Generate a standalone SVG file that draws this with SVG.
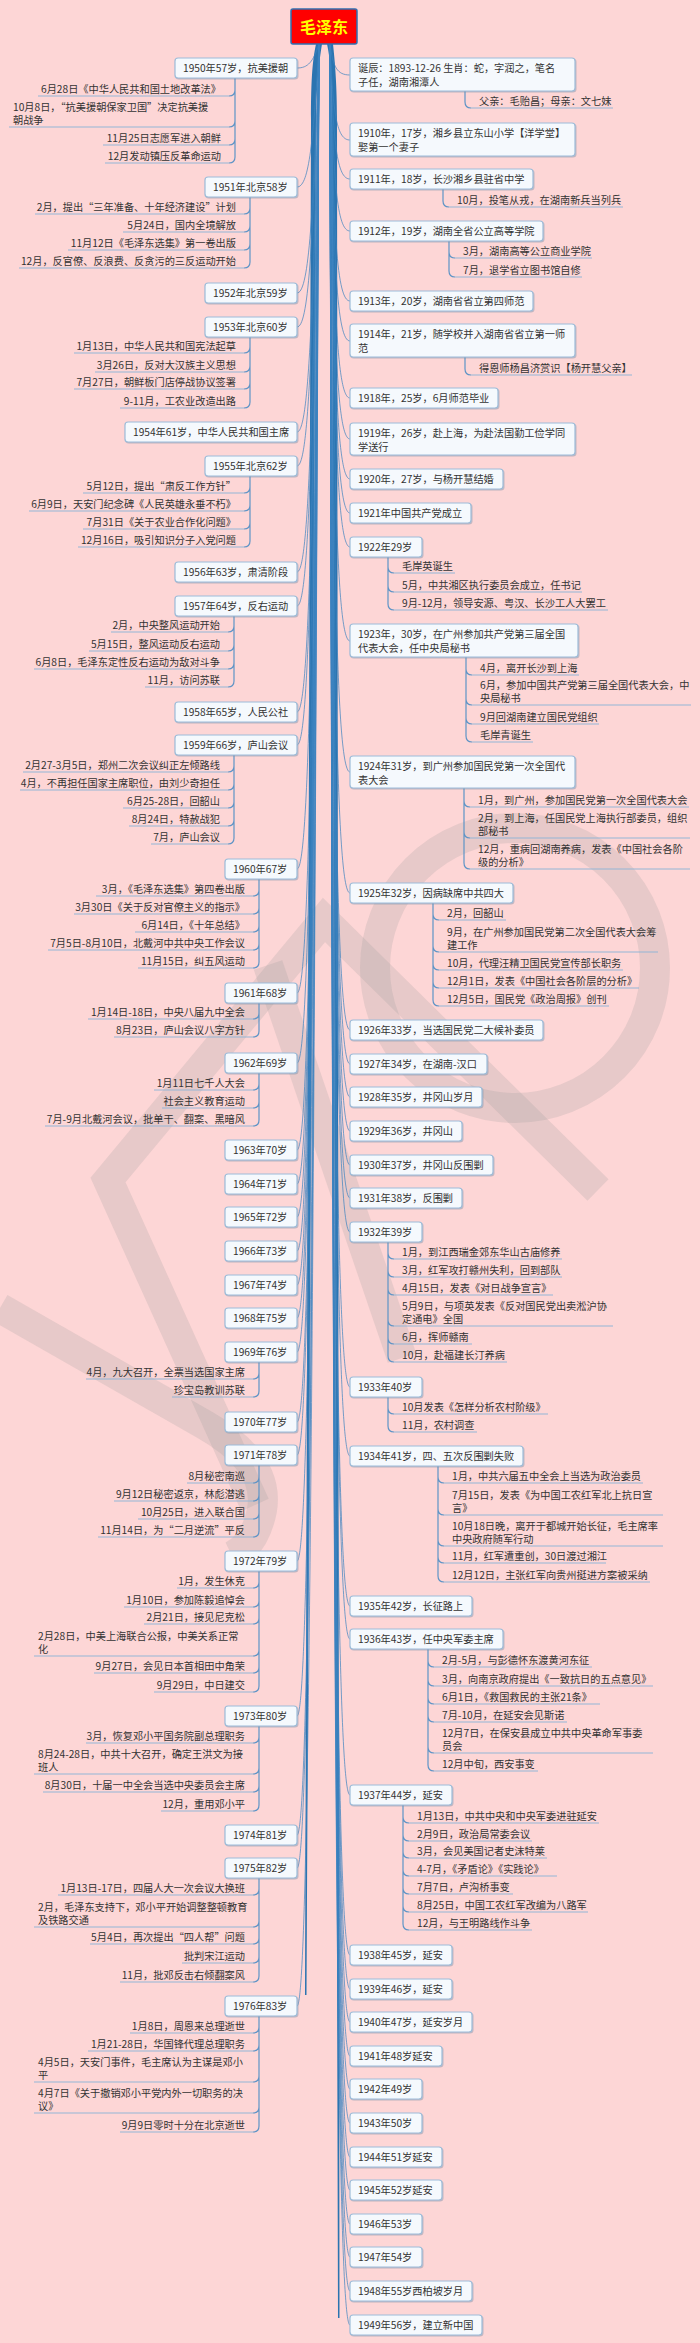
<svg xmlns="http://www.w3.org/2000/svg" width="700" height="2343" viewBox="0 0 700 2343">
<defs>
<style>
.t{font-family:"Noto Sans CJK SC","Noto Sans",sans-serif;font-size:10.2px;fill:#333}
.e{text-anchor:end}
.box{fill:#f5f9fd;stroke:#9dbcd9;stroke-width:1.2}
.ul{stroke:#93b6d6;stroke-width:1.2;fill:none}
.cc{stroke:#5e94c6;stroke-width:1.2;fill:none}
.bc{stroke:#3a82bf;stroke-width:1;fill:none;stroke-opacity:.7}
.trunk{fill:#2b74b0}
</style>
<filter id="sh" x="-10%" y="-30%" width="120%" height="160%">
<feDropShadow dx="0.8" dy="1" stdDeviation="0.6" flood-color="#6f8aa3" flood-opacity="0.45"/>
</filter>
</defs>
<rect width="700" height="2343" fill="#fdd6d6"/>
<g id="watermark" fill="none" stroke="#9a9a9a" stroke-opacity="0.22" stroke-width="30">
<path d="M255 1505L108 1180L324 920L598 1190"/>
<path d="M268 965L402 1358"/>
<path d="M0 1308L205 1425Q270 1462 262 1510Q255 1545 232 1556"/>
<circle cx="515" cy="968" r="140"/>
</g>
<g id="connectors">
<path class="trunk" d="M316 44C312 62 311 85 311 120L305 1995L306.5 1995L316 120C316.5 85 319 62 322 44Z"/>
<path class="trunk" d="M327 44C331 62 332 85 332 120L338 2318L339.5 2318L337 120C337 85 335 62 333 44Z"/>
<path class="bc" d="M330 44C333 67 337 75 350 75M330 44C333 116 337 140 350 140M330 44C333 145 337 179 350 179M330 44C333 184 337 231 350 231M330 44C333 237 337 301 350 301M330 44C333 267 337 341 350 341M330 44C333 310 337 398 350 398M330 44C333 340 337 439 350 439M330 44C333 370 337 479 350 479M330 44C333 396 337 513 350 513M330 44C333 421 337 547 350 547M330 44C333 492 337 641 350 641M330 44C333 590 337 772 350 772M330 44C333 681 337 893 350 893M330 44C333 784 337 1030 350 1030M330 44C333 809 337 1064 350 1064M330 44C333 834 337 1097 350 1097M330 44C333 859 337 1131 350 1131M330 44C333 885 337 1165 350 1165M330 44C333 910 337 1198 350 1198M330 44C333 935 337 1232 350 1232M330 44C333 1051 337 1387 350 1387M330 44C333 1103 337 1456 350 1456M330 44C333 1216 337 1606 350 1606M330 44C333 1240 337 1639 350 1639M330 44C333 1357 337 1795 350 1795M330 44C333 1477 337 1955 350 1955M330 44C333 1503 337 1989 350 1989M330 44C333 1528 337 2022 350 2022M330 44C333 1553 337 2056 350 2056M330 44C333 1578 337 2089 350 2089M330 44C333 1603 337 2123 350 2123M330 44C333 1629 337 2157 350 2157M330 44C333 1654 337 2190 350 2190M330 44C333 1679 337 2224 350 2224M330 44C333 1704 337 2257 350 2257M330 44C333 1729 337 2291 350 2291M330 44C333 1755 337 2325 350 2325"/>
<path class="bc" d="M319 44C313 62 308 68 297 68M319 44C313 151 308 187 297 187M319 44C313 231 308 293 297 293M319 44C313 256 308 327 297 327M319 44C313 335 308 432 297 432M319 44C313 361 308 466 297 466M319 44C313 440 308 572 297 572M319 44C313 466 308 606 297 606M319 44C313 545 308 712 297 712M319 44C313 570 308 745 297 745M319 44C313 663 308 869 297 869M319 44C313 756 308 993 297 993M319 44C313 808 308 1063 297 1063M319 44C313 874 308 1150 297 1150M319 44C313 899 308 1184 297 1184M319 44C313 924 308 1217 297 1217M319 44C313 949 308 1251 297 1251M319 44C313 975 308 1285 297 1285M319 44C313 1000 308 1318 297 1318M319 44C313 1025 308 1352 297 1352M319 44C313 1078 308 1422 297 1422M319 44C313 1102 308 1455 297 1455M319 44C313 1182 308 1561 297 1561M319 44C313 1298 308 1716 297 1716M319 44C313 1387 308 1835 297 1835M319 44C313 1412 308 1868 297 1868M319 44C313 1516 308 2006 297 2006"/>
<path class="cc" d="M465 91V102Q465 108 471 108"/>
<path class="cc" d="M443 189V201Q443 207 449 207"/>
<path class="cc" d="M449 241V252Q449 258 455 258M449 241V271Q449 277 455 277"/>
<path class="cc" d="M465 357V369Q465 375 471 375"/>
<path class="cc" d="M388 557V567Q388 573 394 573M388 557V586Q388 592 394 592M388 557V604Q388 610 394 610"/>
<path class="cc" d="M466 657V669Q466 675 472 675M466 657V699Q466 705 472 705M466 657V718Q466 724 472 724M466 657V736Q466 742 472 742"/>
<path class="cc" d="M464 788V801Q464 807 470 807M464 788V832Q464 838 470 838M464 788V863Q464 869 470 869"/>
<path class="cc" d="M433 903V914Q433 920 439 920M433 903V946Q433 952 439 952M433 903V964Q433 970 439 970M433 903V982Q433 988 439 988M433 903V1000Q433 1006 439 1006"/>
<path class="cc" d="M388 1242V1253Q388 1259 394 1259M388 1242V1271Q388 1277 394 1277M388 1242V1289Q388 1295 394 1295M388 1242V1320Q388 1326 394 1326M388 1242V1338Q388 1344 394 1344M388 1242V1356Q388 1362 394 1362"/>
<path class="cc" d="M388 1397V1408Q388 1414 394 1414M388 1397V1426Q388 1432 394 1432"/>
<path class="cc" d="M438 1466V1477Q438 1483 444 1483M438 1466V1509Q438 1515 444 1515M438 1466V1540Q438 1546 444 1546M438 1466V1557Q438 1563 444 1563M438 1466V1576Q438 1582 444 1582"/>
<path class="cc" d="M428 1649V1661Q428 1667 434 1667M428 1649V1680Q428 1686 434 1686M428 1649V1698Q428 1704 434 1704M428 1649V1716Q428 1722 434 1722M428 1649V1747Q428 1753 434 1753M428 1649V1765Q428 1771 434 1771"/>
<path class="cc" d="M403 1805V1817Q403 1823 409 1823M403 1805V1835Q403 1841 409 1841M403 1805V1852Q403 1858 409 1858M403 1805V1870Q403 1876 409 1876M403 1805V1888Q403 1894 409 1894M403 1805V1906Q403 1912 409 1912M403 1805V1924Q403 1930 409 1930"/>
<path class="cc" d="M235 78V90Q235 96 229 96M235 78V121Q235 127 229 127M235 78V139Q235 145 229 145M235 78V157Q235 163 229 163"/>
<path class="cc" d="M250 197V208Q250 214 244 214M250 197V226Q250 232 244 232M250 197V244Q250 250 244 250M250 197V262Q250 268 244 268"/>
<path class="cc" d="M250 337V347Q250 353 244 353M250 337V366Q250 372 244 372M250 337V383Q250 389 244 389M250 337V402Q250 408 244 408"/>
<path class="cc" d="M250 476V487Q250 493 244 493M250 476V505Q250 511 244 511M250 476V523Q250 529 244 529M250 476V541Q250 547 244 547"/>
<path class="cc" d="M234 616V626Q234 632 228 632M234 616V645Q234 651 228 651M234 616V663Q234 669 228 669M234 616V681Q234 687 228 687"/>
<path class="cc" d="M234 754V766Q234 772 228 772M234 754V784Q234 790 228 790M234 754V802Q234 808 228 808M234 754V820Q234 826 228 826M234 754V838Q234 844 228 844"/>
<path class="cc" d="M259 878V890Q259 896 253 896M259 878V908Q259 914 253 914M259 878V926Q259 932 253 932M259 878V944Q259 950 253 950M259 878V962Q259 968 253 968"/>
<path class="cc" d="M259 1002V1013Q259 1019 253 1019M259 1002V1031Q259 1037 253 1037"/>
<path class="cc" d="M259 1072V1084Q259 1090 253 1090M259 1072V1102Q259 1108 253 1108M259 1072V1120Q259 1126 253 1126"/>
<path class="cc" d="M259 1362V1373Q259 1379 253 1379M259 1362V1391Q259 1397 253 1397"/>
<path class="cc" d="M259 1465V1477Q259 1483 253 1483M259 1465V1495Q259 1501 253 1501M259 1465V1513Q259 1519 253 1519M259 1465V1531Q259 1537 253 1537"/>
<path class="cc" d="M259 1571V1582Q259 1588 253 1588M259 1571V1601Q259 1607 253 1607M259 1571V1618Q259 1624 253 1624M259 1571V1650Q259 1656 253 1656M259 1571V1667Q259 1673 253 1673M259 1571V1686Q259 1692 253 1692"/>
<path class="cc" d="M259 1726V1737Q259 1743 253 1743M259 1726V1768Q259 1774 253 1774M259 1726V1786Q259 1792 253 1792M259 1726V1805Q259 1811 253 1811"/>
<path class="cc" d="M259 1878V1889Q259 1895 253 1895M259 1878V1921Q259 1927 253 1927M259 1878V1938Q259 1944 253 1944M259 1878V1957Q259 1963 253 1963M259 1878V1976Q259 1982 253 1982"/>
<path class="cc" d="M259 2015V2027Q259 2033 253 2033M259 2015V2045Q259 2051 253 2051M259 2015V2076Q259 2082 253 2082M259 2015V2107Q259 2113 253 2113M259 2015V2126Q259 2132 253 2132"/>
</g>
<g id="root">
<rect x="291" y="9" width="66" height="35" rx="2" fill="#ff0000" stroke="#2f6fb0" stroke-width="1.5"/>
<text x="324" y="32.5" text-anchor="middle" font-family="Noto Sans CJK SC, sans-serif" font-size="16" font-weight="bold" fill="#ffff00">毛泽东</text>
</g>
<g id="right-nodes">
<g id="r01"><rect class="box" filter="url(#sh)" x="350" y="58" width="225" height="33" rx="3"/><text class="t" x="358" y="72">诞辰：1893-12-26  生肖：蛇，字润之，笔名<tspan x="358" dy="13.5">子任，湖南湘潭人</tspan></text></g>
<g id="r01-1"><path class="ul" d="M471 108H613"/><text class="t" x="479" y="104.5">父亲：毛贻昌；母亲：文七妹</text></g>
<g id="r02"><rect class="box" filter="url(#sh)" x="350" y="123" width="225" height="33" rx="3"/><text class="t" x="358" y="137">1910年，17岁，湘乡县立东山小学【洋学堂】<tspan x="358" dy="13.5">娶第一个妻子</tspan></text></g>
<g id="r03"><rect class="box" filter="url(#sh)" x="350" y="169" width="183" height="20" rx="3"/><text class="t" x="358" y="183">1911年，18岁，长沙湘乡县驻省中学</text></g>
<g id="r03-1"><path class="ul" d="M449 207H623"/><text class="t" x="457" y="203.5">10月，投笔从戎，在湖南新兵当列兵</text></g>
<g id="r04"><rect class="box" filter="url(#sh)" x="350" y="221" width="193" height="20" rx="3"/><text class="t" x="358" y="235">1912年，19岁，湖南全省公立高等学院</text></g>
<g id="r04-1"><path class="ul" d="M455 258H592"/><text class="t" x="463" y="254.5">3月，湖南高等公立商业学院</text></g>
<g id="r04-2"><path class="ul" d="M455 277H582"/><text class="t" x="463" y="273.5">7月，退学省立图书馆自修</text></g>
<g id="r05"><rect class="box" filter="url(#sh)" x="350" y="291" width="183" height="20" rx="3"/><text class="t" x="358" y="305">1913年，20岁，湖南省省立第四师范</text></g>
<g id="r06"><rect class="box" filter="url(#sh)" x="350" y="324" width="225" height="33" rx="3"/><text class="t" x="358" y="338">1914年，21岁，随学校并入湖南省省立第一师<tspan x="358" dy="13.5">范</tspan></text></g>
<g id="r06-1"><path class="ul" d="M471 375H632"/><text class="t" x="479" y="371.5">得恩师杨昌济赏识【杨开慧父亲】</text></g>
<g id="r07"><rect class="box" filter="url(#sh)" x="350" y="388" width="148" height="20" rx="3"/><text class="t" x="358" y="402">1918年，25岁，6月师范毕业</text></g>
<g id="r08"><rect class="box" filter="url(#sh)" x="350" y="423" width="225" height="32" rx="3"/><text class="t" x="358" y="437">1919年，26岁，赴上海，为赴法国勤工俭学同<tspan x="358" dy="13.5">学送行</tspan></text></g>
<g id="r09"><rect class="box" filter="url(#sh)" x="350" y="469" width="153" height="20" rx="3"/><text class="t" x="358" y="483">1920年，27岁，与杨开慧结婚</text></g>
<g id="r10"><rect class="box" filter="url(#sh)" x="350" y="503" width="121" height="20" rx="3"/><text class="t" x="358" y="517">1921年中国共产党成立</text></g>
<g id="r11"><rect class="box" filter="url(#sh)" x="350" y="537" width="72" height="20" rx="3"/><text class="t" x="358" y="551">1922年29岁</text></g>
<g id="r11-1"><path class="ul" d="M394 573H455"/><text class="t" x="402" y="569.5">毛岸英诞生</text></g>
<g id="r11-2"><path class="ul" d="M394 592H582"/><text class="t" x="402" y="588.5">5月，中共湘区执行委员会成立，任书记</text></g>
<g id="r11-3"><path class="ul" d="M394 610H608"/><text class="t" x="402" y="606.5">9月-12月，领导安源、粤汉、长沙工人大罢工</text></g>
<g id="r12"><rect class="box" filter="url(#sh)" x="350" y="624" width="228" height="33" rx="3"/><text class="t" x="358" y="638">1923年，30岁，在广州参加共产党第三届全国<tspan x="358" dy="13.5">代表大会，任中央局秘书</tspan></text></g>
<g id="r12-1"><path class="ul" d="M472 675H579"/><text class="t" x="480" y="671.5">4月，离开长沙到上海</text></g>
<g id="r12-2"><path class="ul" d="M472 705H691"/><text class="t" x="480" y="688.5">6月，参加中国共产党第三届全国代表大会，中<tspan x="480" dy="13">央局秘书</tspan></text></g>
<g id="r12-3"><path class="ul" d="M472 724H599"/><text class="t" x="480" y="720.5">9月回湖南建立国民党组织</text></g>
<g id="r12-4"><path class="ul" d="M472 742H533"/><text class="t" x="480" y="738.5">毛岸青诞生</text></g>
<g id="r13"><rect class="box" filter="url(#sh)" x="350" y="756" width="225" height="32" rx="3"/><text class="t" x="358" y="770">1924年31岁，到广州参加国民党第一次全国代<tspan x="358" dy="13.5">表大会</tspan></text></g>
<g id="r13-1"><path class="ul" d="M470 807H689"/><text class="t" x="478" y="803.5">1月，到广州，参加国民党第一次全国代表大会</text></g>
<g id="r13-2"><path class="ul" d="M470 838H690"/><text class="t" x="478" y="821.5">2月，到上海，任国民党上海执行部委员，组织<tspan x="478" dy="13">部秘书</tspan></text></g>
<g id="r13-3"><path class="ul" d="M470 869H690"/><text class="t" x="478" y="852.5">12月，重病回湖南养病，发表《中国社会各阶<tspan x="478" dy="13">级的分析》</tspan></text></g>
<g id="r14"><rect class="box" filter="url(#sh)" x="350" y="883" width="163" height="20" rx="3"/><text class="t" x="358" y="897">1925年32岁，因病缺席中共四大</text></g>
<g id="r14-1"><path class="ul" d="M439 920H506"/><text class="t" x="447" y="916.5">2月，回韶山</text></g>
<g id="r14-2"><path class="ul" d="M439 952H658"/><text class="t" x="447" y="935.5">9月，在广州参加国民党第二次全国代表大会筹<tspan x="447" dy="13">建工作</tspan></text></g>
<g id="r14-3"><path class="ul" d="M439 970H623"/><text class="t" x="447" y="966.5">10月，代理汪精卫国民党宣传部长职务</text></g>
<g id="r14-4"><path class="ul" d="M439 988H639"/><text class="t" x="447" y="984.5">12月1日，发表《中国社会各阶层的分析》</text></g>
<g id="r14-5"><path class="ul" d="M439 1006H609"/><text class="t" x="447" y="1002.5">12月5日，国民党《政治周报》创刊</text></g>
<g id="r15"><rect class="box" filter="url(#sh)" x="350" y="1020" width="193" height="20" rx="3"/><text class="t" x="358" y="1034">1926年33岁，当选国民党二大候补委员</text></g>
<g id="r16"><rect class="box" filter="url(#sh)" x="350" y="1054" width="137" height="20" rx="3"/><text class="t" x="358" y="1068">1927年34岁，在湖南-汉口</text></g>
<g id="r17"><rect class="box" filter="url(#sh)" x="350" y="1087" width="132" height="20" rx="3"/><text class="t" x="358" y="1101">1928年35岁，井冈山岁月</text></g>
<g id="r18"><rect class="box" filter="url(#sh)" x="350" y="1121" width="112" height="20" rx="3"/><text class="t" x="358" y="1135">1929年36岁，井冈山</text></g>
<g id="r19"><rect class="box" filter="url(#sh)" x="350" y="1155" width="143" height="20" rx="3"/><text class="t" x="358" y="1169">1930年37岁，井冈山反围剿</text></g>
<g id="r20"><rect class="box" filter="url(#sh)" x="350" y="1188" width="112" height="20" rx="3"/><text class="t" x="358" y="1202">1931年38岁，反围剿</text></g>
<g id="r21"><rect class="box" filter="url(#sh)" x="350" y="1222" width="72" height="20" rx="3"/><text class="t" x="358" y="1236">1932年39岁</text></g>
<g id="r21-1"><path class="ul" d="M394 1259H562"/><text class="t" x="402" y="1255.5">1月，到江西瑞金郊东华山古庙修养</text></g>
<g id="r21-2"><path class="ul" d="M394 1277H562"/><text class="t" x="402" y="1273.5">3月，红军攻打赣州失利，回到部队</text></g>
<g id="r21-3"><path class="ul" d="M394 1295H553"/><text class="t" x="402" y="1291.5">4月15日，发表《对日战争宣言》</text></g>
<g id="r21-4"><path class="ul" d="M394 1326H613"/><text class="t" x="402" y="1309.5">5月9日，与项英发表《反对国民党出卖淞沪协<tspan x="402" dy="13">定通电》全国</tspan></text></g>
<g id="r21-5"><path class="ul" d="M394 1344H472"/><text class="t" x="402" y="1340.5">6月，挥师赣南</text></g>
<g id="r21-6"><path class="ul" d="M394 1362H507"/><text class="t" x="402" y="1358.5">10月，赴福建长汀养病</text></g>
<g id="r22"><rect class="box" filter="url(#sh)" x="350" y="1377" width="72" height="20" rx="3"/><text class="t" x="358" y="1391">1933年40岁</text></g>
<g id="r22-1"><path class="ul" d="M394 1414H548"/><text class="t" x="402" y="1410.5">10月发表《怎样分析农村阶级》</text></g>
<g id="r22-2"><path class="ul" d="M394 1432H477"/><text class="t" x="402" y="1428.5">11月，农村调查</text></g>
<g id="r23"><rect class="box" filter="url(#sh)" x="350" y="1446" width="173" height="20" rx="3"/><text class="t" x="358" y="1460">1934年41岁，四、五次反围剿失败</text></g>
<g id="r23-1"><path class="ul" d="M444 1483H643"/><text class="t" x="452" y="1479.5">1月，中共六届五中全会上当选为政治委员</text></g>
<g id="r23-2"><path class="ul" d="M444 1515H663"/><text class="t" x="452" y="1498.5">7月15日，发表《为中国工农红军北上抗日宣<tspan x="452" dy="13">言》</tspan></text></g>
<g id="r23-3"><path class="ul" d="M444 1546H663"/><text class="t" x="452" y="1529.5">10月18日晚，离开于都城开始长征，毛主席率<tspan x="452" dy="13">中央政府随军行动</tspan></text></g>
<g id="r23-4"><path class="ul" d="M444 1563H606"/><text class="t" x="452" y="1559.5">11月，红军遭重创，30日渡过湘江</text></g>
<g id="r23-5"><path class="ul" d="M444 1582H650"/><text class="t" x="452" y="1578.5">12月12日，主张红军向贵州挺进方案被采纳</text></g>
<g id="r24"><rect class="box" filter="url(#sh)" x="350" y="1596" width="122" height="20" rx="3"/><text class="t" x="358" y="1610">1935年42岁，长征路上</text></g>
<g id="r25"><rect class="box" filter="url(#sh)" x="350" y="1629" width="153" height="20" rx="3"/><text class="t" x="358" y="1643">1936年43岁，任中央军委主席</text></g>
<g id="r25-1"><path class="ul" d="M434 1667H592"/><text class="t" x="442" y="1663.5">2月-5月，与彭德怀东渡黄河东征</text></g>
<g id="r25-2"><path class="ul" d="M434 1686H653"/><text class="t" x="442" y="1682.5">3月，向南京政府提出《一致抗日的五点意见》</text></g>
<g id="r25-3"><path class="ul" d="M434 1704H600"/><text class="t" x="442" y="1700.5">6月1日，《救国救民的主张21条》</text></g>
<g id="r25-4"><path class="ul" d="M434 1722H567"/><text class="t" x="442" y="1718.5">7月-10月，在延安会见斯诺</text></g>
<g id="r25-5"><path class="ul" d="M434 1753H653"/><text class="t" x="442" y="1736.5">12月7日，在保安县成立中共中央革命军事委<tspan x="442" dy="13">员会</tspan></text></g>
<g id="r25-6"><path class="ul" d="M434 1771H538"/><text class="t" x="442" y="1767.5">12月中旬，西安事变</text></g>
<g id="r26"><rect class="box" filter="url(#sh)" x="350" y="1785" width="102" height="20" rx="3"/><text class="t" x="358" y="1799">1937年44岁，延安</text></g>
<g id="r26-1"><path class="ul" d="M409 1823H599"/><text class="t" x="417" y="1819.5">1月13日，中共中央和中央军委进驻延安</text></g>
<g id="r26-2"><path class="ul" d="M409 1841H532"/><text class="t" x="417" y="1837.5">2月9日，政治局常委会议</text></g>
<g id="r26-3"><path class="ul" d="M409 1858H547"/><text class="t" x="417" y="1854.5">3月，会见美国记者史沫特莱</text></g>
<g id="r26-4"><path class="ul" d="M409 1876H557"/><text class="t" x="417" y="1872.5">4-7月，《矛盾论》《实践论》</text></g>
<g id="r26-5"><path class="ul" d="M409 1894H513"/><text class="t" x="417" y="1890.5">7月7日，卢沟桥事变</text></g>
<g id="r26-6"><path class="ul" d="M409 1912H588"/><text class="t" x="417" y="1908.5">8月25日，中国工农红军改编为八路军</text></g>
<g id="r26-7"><path class="ul" d="M409 1930H532"/><text class="t" x="417" y="1926.5">12月，与王明路线作斗争</text></g>
<g id="r27"><rect class="box" filter="url(#sh)" x="350" y="1945" width="102" height="20" rx="3"/><text class="t" x="358" y="1959">1938年45岁，延安</text></g>
<g id="r28"><rect class="box" filter="url(#sh)" x="350" y="1979" width="102" height="20" rx="3"/><text class="t" x="358" y="1993">1939年46岁，延安</text></g>
<g id="r29"><rect class="box" filter="url(#sh)" x="350" y="2012" width="122" height="20" rx="3"/><text class="t" x="358" y="2026">1940年47岁，延安岁月</text></g>
<g id="r30"><rect class="box" filter="url(#sh)" x="350" y="2046" width="92" height="20" rx="3"/><text class="t" x="358" y="2060">1941年48岁延安</text></g>
<g id="r31"><rect class="box" filter="url(#sh)" x="350" y="2079" width="72" height="20" rx="3"/><text class="t" x="358" y="2093">1942年49岁</text></g>
<g id="r32"><rect class="box" filter="url(#sh)" x="350" y="2113" width="72" height="20" rx="3"/><text class="t" x="358" y="2127">1943年50岁</text></g>
<g id="r33"><rect class="box" filter="url(#sh)" x="350" y="2147" width="92" height="20" rx="3"/><text class="t" x="358" y="2161">1944年51岁延安</text></g>
<g id="r34"><rect class="box" filter="url(#sh)" x="350" y="2180" width="92" height="20" rx="3"/><text class="t" x="358" y="2194">1945年52岁延安</text></g>
<g id="r35"><rect class="box" filter="url(#sh)" x="350" y="2214" width="72" height="20" rx="3"/><text class="t" x="358" y="2228">1946年53岁</text></g>
<g id="r36"><rect class="box" filter="url(#sh)" x="350" y="2247" width="72" height="20" rx="3"/><text class="t" x="358" y="2261">1947年54岁</text></g>
<g id="r37"><rect class="box" filter="url(#sh)" x="350" y="2281" width="122" height="20" rx="3"/><text class="t" x="358" y="2295">1948年55岁西柏坡岁月</text></g>
<g id="r38"><rect class="box" filter="url(#sh)" x="350" y="2315" width="132" height="20" rx="3"/><text class="t" x="358" y="2329">1949年56岁，建立新中国</text></g>
</g>
<g id="left-nodes">
<g id="l1950"><rect class="box" filter="url(#sh)" x="175" y="58" width="122" height="20" rx="3"/><text class="t" x="183" y="72">1950年57岁，抗美援朝</text></g>
<g id="l1950-1"><path class="ul" d="M38 96H229"/><text class="t e" x="221" y="92.5">6月28日《中华人民共和国土地改革法》</text></g>
<g id="l1950-2"><path class="ul" d="M9 127H229"/><text class="t" x="13" y="110.5">10月8日，“抗美援朝保家卫国”决定抗美援<tspan x="13" dy="13">朝战争</tspan></text></g>
<g id="l1950-3"><path class="ul" d="M103 145H229"/><text class="t e" x="221" y="141.5">11月25日志愿军进入朝鲜</text></g>
<g id="l1950-4"><path class="ul" d="M105 163H229"/><text class="t e" x="221" y="159.5">12月发动镇压反革命运动</text></g>
<g id="l1951"><rect class="box" filter="url(#sh)" x="205" y="177" width="92" height="20" rx="3"/><text class="t" x="213" y="191">1951年北京58岁</text></g>
<g id="l1951-1"><path class="ul" d="M35 214H244"/><text class="t e" x="236" y="210.5">2月，提出“三年准备、十年经济建设”计划</text></g>
<g id="l1951-2"><path class="ul" d="M123 232H244"/><text class="t e" x="236" y="228.5">5月24日，国内全境解放</text></g>
<g id="l1951-3"><path class="ul" d="M68 250H244"/><text class="t e" x="236" y="246.5">11月12日《毛泽东选集》第一卷出版</text></g>
<g id="l1951-4"><path class="ul" d="M19 268H244"/><text class="t e" x="236" y="264.5">12月，反官僚、反浪费、反贪污的三反运动开始</text></g>
<g id="l1952"><rect class="box" filter="url(#sh)" x="205" y="283" width="92" height="20" rx="3"/><text class="t" x="213" y="297">1952年北京59岁</text></g>
<g id="l1953"><rect class="box" filter="url(#sh)" x="205" y="317" width="92" height="20" rx="3"/><text class="t" x="213" y="331">1953年北京60岁</text></g>
<g id="l1953-1"><path class="ul" d="M74 353H244"/><text class="t e" x="236" y="349.5">1月13日，中华人民共和国宪法起草</text></g>
<g id="l1953-2"><path class="ul" d="M95 372H244"/><text class="t e" x="236" y="368.5">3月26日，反对大汉族主义思想</text></g>
<g id="l1953-3"><path class="ul" d="M74 389H244"/><text class="t e" x="236" y="385.5">7月27日，朝鲜板门店停战协议签署</text></g>
<g id="l1953-4"><path class="ul" d="M120 408H244"/><text class="t e" x="236" y="404.5">9-11月，工农业改造出路</text></g>
<g id="l1954"><rect class="box" filter="url(#sh)" x="125" y="422" width="172" height="20" rx="3"/><text class="t" x="133" y="436">1954年61岁，中华人民共和国主席</text></g>
<g id="l1955"><rect class="box" filter="url(#sh)" x="205" y="456" width="92" height="20" rx="3"/><text class="t" x="213" y="470">1955年北京62岁</text></g>
<g id="l1955-1"><path class="ul" d="M83 493H244"/><text class="t e" x="236" y="489.5">5月12日，提出“肃反工作方针”</text></g>
<g id="l1955-2"><path class="ul" d="M29 511H244"/><text class="t e" x="236" y="507.5">6月9日，天安门纪念碑《人民英雄永垂不朽》</text></g>
<g id="l1955-3"><path class="ul" d="M83 529H244"/><text class="t e" x="236" y="525.5">7月31日《关于农业合作化问题》</text></g>
<g id="l1955-4"><path class="ul" d="M78 547H244"/><text class="t e" x="236" y="543.5">12月16日，吸引知识分子入党问题</text></g>
<g id="l1956"><rect class="box" filter="url(#sh)" x="175" y="562" width="122" height="20" rx="3"/><text class="t" x="183" y="576">1956年63岁，肃清阶段</text></g>
<g id="l1957"><rect class="box" filter="url(#sh)" x="175" y="596" width="122" height="20" rx="3"/><text class="t" x="183" y="610">1957年64岁，反右运动</text></g>
<g id="l1957-1"><path class="ul" d="M111 632H228"/><text class="t e" x="220" y="628.5">2月，中央整风运动开始</text></g>
<g id="l1957-2"><path class="ul" d="M89 651H228"/><text class="t e" x="220" y="647.5">5月15日，整风运动反右运动</text></g>
<g id="l1957-3"><path class="ul" d="M34 669H228"/><text class="t e" x="220" y="665.5">6月8日，毛泽东定性反右运动为敌对斗争</text></g>
<g id="l1957-4"><path class="ul" d="M145 687H228"/><text class="t e" x="220" y="683.5">11月，访问苏联</text></g>
<g id="l1958"><rect class="box" filter="url(#sh)" x="175" y="702" width="122" height="20" rx="3"/><text class="t" x="183" y="716">1958年65岁，人民公社</text></g>
<g id="l1959"><rect class="box" filter="url(#sh)" x="175" y="735" width="122" height="20" rx="3"/><text class="t" x="183" y="749">1959年66岁，庐山会议</text></g>
<g id="l1959-1"><path class="ul" d="M23 772H228"/><text class="t e" x="220" y="768.5">2月27-3月5日，郑州二次会议纠正左倾路线</text></g>
<g id="l1959-2"><path class="ul" d="M20 790H228"/><text class="t e" x="220" y="786.5">4月，不再担任国家主席职位，由刘少奇担任</text></g>
<g id="l1959-3"><path class="ul" d="M123 808H228"/><text class="t e" x="220" y="804.5">6月25-28日，回韶山</text></g>
<g id="l1959-4"><path class="ul" d="M129 826H228"/><text class="t e" x="220" y="822.5">8月24日，特赦战犯</text></g>
<g id="l1959-5"><path class="ul" d="M151 844H228"/><text class="t e" x="220" y="840.5">7月，庐山会议</text></g>
<g id="l1960"><rect class="box" filter="url(#sh)" x="225" y="859" width="72" height="20" rx="3"/><text class="t" x="233" y="873">1960年67岁</text></g>
<g id="l1960-1"><path class="ul" d="M96 896H253"/><text class="t e" x="245" y="892.5">3月，《毛泽东选集》第四卷出版</text></g>
<g id="l1960-2"><path class="ul" d="M74 914H253"/><text class="t e" x="245" y="910.5">3月30日《关于反对官僚主义的指示》</text></g>
<g id="l1960-3"><path class="ul" d="M135 932H253"/><text class="t e" x="245" y="928.5">6月14日，《十年总结》</text></g>
<g id="l1960-4"><path class="ul" d="M48 950H253"/><text class="t e" x="245" y="946.5">7月5日-8月10日，北戴河中共中央工作会议</text></g>
<g id="l1960-5"><path class="ul" d="M138 968H253"/><text class="t e" x="245" y="964.5">11月15日，纠五风运动</text></g>
<g id="l1961"><rect class="box" filter="url(#sh)" x="225" y="983" width="72" height="20" rx="3"/><text class="t" x="233" y="997">1961年68岁</text></g>
<g id="l1961-1"><path class="ul" d="M88 1019H253"/><text class="t e" x="245" y="1015.5">1月14日-18日，中央八届九中全会</text></g>
<g id="l1961-2"><path class="ul" d="M114 1037H253"/><text class="t e" x="245" y="1033.5">8月23日，庐山会议八字方针</text></g>
<g id="l1962"><rect class="box" filter="url(#sh)" x="225" y="1053" width="72" height="20" rx="3"/><text class="t" x="233" y="1067">1962年69岁</text></g>
<g id="l1962-1"><path class="ul" d="M154 1090H253"/><text class="t e" x="245" y="1086.5">1月11日七千人大会</text></g>
<g id="l1962-2"><path class="ul" d="M162 1108H253"/><text class="t e" x="245" y="1104.5">社会主义教育运动</text></g>
<g id="l1962-3"><path class="ul" d="M45 1126H253"/><text class="t e" x="245" y="1122.5">7月-9月北戴河会议，批单干、翻案、黑暗风</text></g>
<g id="l1963"><rect class="box" filter="url(#sh)" x="225" y="1140" width="72" height="20" rx="3"/><text class="t" x="233" y="1154">1963年70岁</text></g>
<g id="l1964"><rect class="box" filter="url(#sh)" x="225" y="1174" width="72" height="20" rx="3"/><text class="t" x="233" y="1188">1964年71岁</text></g>
<g id="l1965"><rect class="box" filter="url(#sh)" x="225" y="1207" width="72" height="20" rx="3"/><text class="t" x="233" y="1221">1965年72岁</text></g>
<g id="l1966"><rect class="box" filter="url(#sh)" x="225" y="1241" width="72" height="20" rx="3"/><text class="t" x="233" y="1255">1966年73岁</text></g>
<g id="l1967"><rect class="box" filter="url(#sh)" x="225" y="1275" width="72" height="20" rx="3"/><text class="t" x="233" y="1289">1967年74岁</text></g>
<g id="l1968"><rect class="box" filter="url(#sh)" x="225" y="1308" width="72" height="20" rx="3"/><text class="t" x="233" y="1322">1968年75岁</text></g>
<g id="l1969"><rect class="box" filter="url(#sh)" x="225" y="1342" width="72" height="20" rx="3"/><text class="t" x="233" y="1356">1969年76岁</text></g>
<g id="l1969-1"><path class="ul" d="M86 1379H253"/><text class="t e" x="245" y="1375.5">4月，九大召开，全票当选国家主席</text></g>
<g id="l1969-2"><path class="ul" d="M172 1397H253"/><text class="t e" x="245" y="1393.5">珍宝岛教训苏联</text></g>
<g id="l1970"><rect class="box" filter="url(#sh)" x="225" y="1412" width="72" height="20" rx="3"/><text class="t" x="233" y="1426">1970年77岁</text></g>
<g id="l1971"><rect class="box" filter="url(#sh)" x="225" y="1445" width="72" height="20" rx="3"/><text class="t" x="233" y="1459">1971年78岁</text></g>
<g id="l1971-1"><path class="ul" d="M187 1483H253"/><text class="t e" x="245" y="1479.5">8月秘密南巡</text></g>
<g id="l1971-2"><path class="ul" d="M114 1501H253"/><text class="t e" x="245" y="1497.5">9月12日秘密返京，林彪潜逃</text></g>
<g id="l1971-3"><path class="ul" d="M138 1519H253"/><text class="t e" x="245" y="1515.5">10月25日，进入联合国</text></g>
<g id="l1971-4"><path class="ul" d="M98 1537H253"/><text class="t e" x="245" y="1533.5">11月14日，为“二月逆流”平反</text></g>
<g id="l1972"><rect class="box" filter="url(#sh)" x="225" y="1551" width="72" height="20" rx="3"/><text class="t" x="233" y="1565">1972年79岁</text></g>
<g id="l1972-1"><path class="ul" d="M177 1588H253"/><text class="t e" x="245" y="1584.5">1月，发生休克</text></g>
<g id="l1972-2"><path class="ul" d="M124 1607H253"/><text class="t e" x="245" y="1603.5">1月10日，参加陈毅追悼会</text></g>
<g id="l1972-3"><path class="ul" d="M144 1624H253"/><text class="t e" x="245" y="1620.5">2月21日，接见尼克松</text></g>
<g id="l1972-4"><path class="ul" d="M34 1656H253"/><text class="t" x="38" y="1639.5">2月28日，中美上海联合公报，中美关系正常<tspan x="38" dy="13">化</tspan></text></g>
<g id="l1972-5"><path class="ul" d="M94 1673H253"/><text class="t e" x="245" y="1669.5">9月27日，会见日本首相田中角荣</text></g>
<g id="l1972-6"><path class="ul" d="M154 1692H253"/><text class="t e" x="245" y="1688.5">9月29日，中日建交</text></g>
<g id="l1973"><rect class="box" filter="url(#sh)" x="225" y="1706" width="72" height="20" rx="3"/><text class="t" x="233" y="1720">1973年80岁</text></g>
<g id="l1973-1"><path class="ul" d="M86 1743H253"/><text class="t e" x="245" y="1739.5">3月，恢复邓小平国务院副总理职务</text></g>
<g id="l1973-2"><path class="ul" d="M34 1774H253"/><text class="t" x="38" y="1757.5">8月24-28日，中共十大召开，确定王洪文为接<tspan x="38" dy="13">班人</tspan></text></g>
<g id="l1973-3"><path class="ul" d="M43 1792H253"/><text class="t e" x="245" y="1788.5">8月30日，十届一中全会当选中央委员会主席</text></g>
<g id="l1973-4"><path class="ul" d="M161 1811H253"/><text class="t e" x="245" y="1807.5">12月，重用邓小平</text></g>
<g id="l1974"><rect class="box" filter="url(#sh)" x="225" y="1825" width="72" height="20" rx="3"/><text class="t" x="233" y="1839">1974年81岁</text></g>
<g id="l1975"><rect class="box" filter="url(#sh)" x="225" y="1858" width="72" height="20" rx="3"/><text class="t" x="233" y="1872">1975年82岁</text></g>
<g id="l1975-1"><path class="ul" d="M58 1895H253"/><text class="t e" x="245" y="1891.5">1月13日-17日，四届人大一次会议大换班</text></g>
<g id="l1975-2"><path class="ul" d="M34 1927H253"/><text class="t" x="38" y="1910.5">2月，毛泽东支持下，邓小平开始调整整顿教育<tspan x="38" dy="13">及铁路交通</tspan></text></g>
<g id="l1975-3"><path class="ul" d="M90 1944H253"/><text class="t e" x="245" y="1940.5">5月4日，再次提出“四人帮”问题</text></g>
<g id="l1975-4"><path class="ul" d="M182 1963H253"/><text class="t e" x="245" y="1959.5">批判宋江运动</text></g>
<g id="l1975-5"><path class="ul" d="M120 1982H253"/><text class="t e" x="245" y="1978.5">11月，批邓反击右倾翻案风</text></g>
<g id="l1976"><rect class="box" filter="url(#sh)" x="225" y="1996" width="72" height="20" rx="3"/><text class="t" x="233" y="2010">1976年83岁</text></g>
<g id="l1976-1"><path class="ul" d="M130 2033H253"/><text class="t e" x="245" y="2029.5">1月8日，周恩来总理逝世</text></g>
<g id="l1976-2"><path class="ul" d="M88 2051H253"/><text class="t e" x="245" y="2047.5">1月21-28日，华国锋代理总理职务</text></g>
<g id="l1976-3"><path class="ul" d="M34 2082H253"/><text class="t" x="38" y="2065.5">4月5日，天安门事件，毛主席认为主谋是邓小<tspan x="38" dy="13">平</tspan></text></g>
<g id="l1976-4"><path class="ul" d="M34 2113H253"/><text class="t" x="38" y="2096.5">4月7日《关于撤销邓小平党内外一切职务的决<tspan x="38" dy="13">议》</tspan></text></g>
<g id="l1976-5"><path class="ul" d="M120 2132H253"/><text class="t e" x="245" y="2128.5">9月9日零时十分在北京逝世</text></g>
</g>
</svg>
